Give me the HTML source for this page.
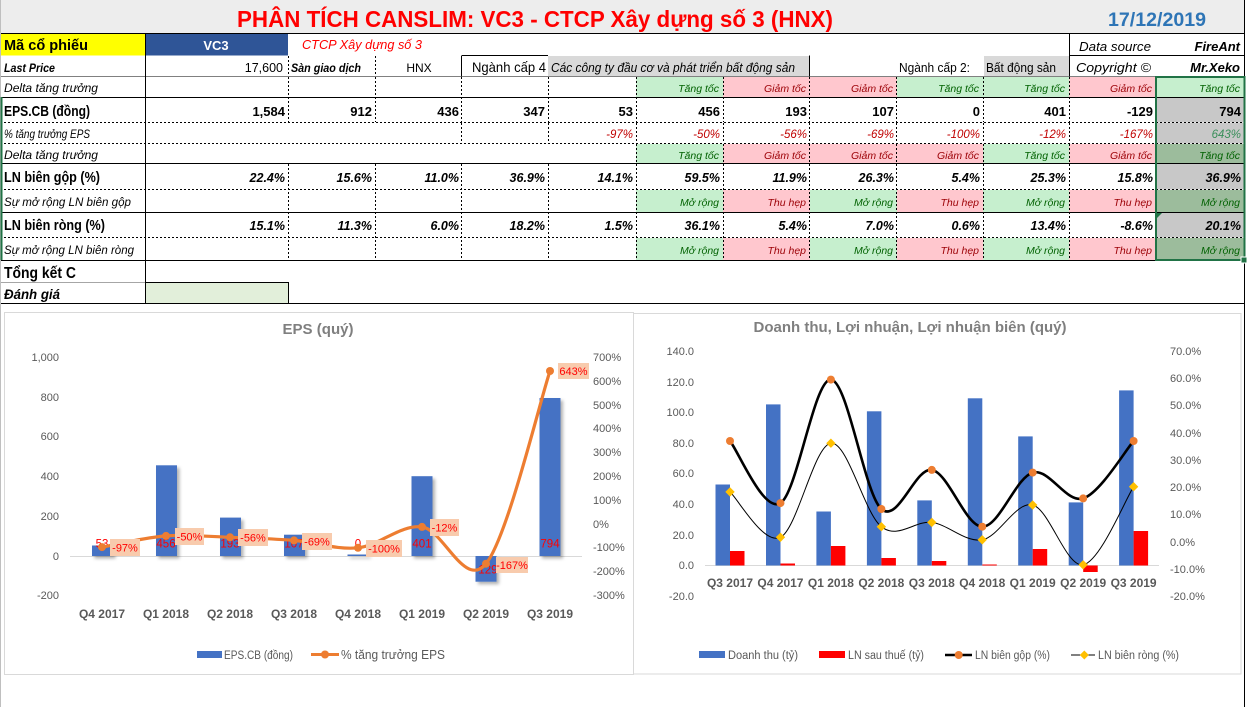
<!DOCTYPE html>
<html><head><meta charset="utf-8"><style>
html,body{margin:0;padding:0;background:#fff;}
svg{display:block;font-family:"Liberation Sans",Arial,sans-serif;}
</style></head><body>
<svg width="1255" height="707" viewBox="0 0 1255 707" xmlns="http://www.w3.org/2000/svg">
<defs>
<filter id="sh" x="-30%" y="-30%" width="160%" height="160%"><feDropShadow dx="2.5" dy="2.5" stdDeviation="1.5" flood-color="#000" flood-opacity="0.3"/></filter>
</defs>
<rect x="0" y="0" width="1255" height="707" fill="#fff"/>
<!-- title row -->
<rect x="0" y="0" width="1244" height="33.5" fill="#ededed"/>
<text x="237" y="27" font-size="23" font-weight="bold" fill="#ff0000" textLength="596" lengthAdjust="spacingAndGlyphs">PHÂN TÍCH CANSLIM: VC3 - CTCP Xây dựng số 3 (HNX)</text>
<text x="1108" y="26" font-size="19" font-weight="bold" fill="#2e75b6" textLength="98" lengthAdjust="spacingAndGlyphs">17/12/2019</text>

<!-- row 1 -->
<rect x="0" y="34" width="145" height="21.5" fill="#ffff00"/>
<rect x="146" y="34" width="142" height="21.5" fill="#2f5597"/>
<text x="4" y="50" font-size="14.5" font-weight="bold" textLength="84" lengthAdjust="spacingAndGlyphs">Mã cổ phiếu</text>
<text x="216" y="50" font-size="13" font-weight="bold" fill="#fff" text-anchor="middle">VC3</text>
<text x="302" y="49" font-size="12.5" font-style="italic" fill="#ff0000" textLength="120" lengthAdjust="spacingAndGlyphs">CTCP Xây dựng số 3</text>
<text x="1079" y="51" font-size="13" font-style="italic" textLength="72" lengthAdjust="spacingAndGlyphs">Data source</text>
<text x="1240" y="51" font-size="13" font-style="italic" font-weight="bold" text-anchor="end">FireAnt</text>

<!-- row 2 -->
<rect x="548" y="56" width="261" height="20.5" fill="#d9d9d9"/>
<rect x="984" y="56" width="85" height="20.5" fill="#d9d9d9"/>
<text x="4" y="72" font-size="12" font-style="italic" font-weight="bold" textLength="51" lengthAdjust="spacingAndGlyphs">Last Price</text>
<text x="283" y="72" font-size="12.5" text-anchor="end">17,600</text>
<text x="291" y="72" font-size="12" font-style="italic" font-weight="bold" textLength="70" lengthAdjust="spacingAndGlyphs">Sàn giao dịch</text>
<text x="419" y="72" font-size="12" text-anchor="middle">HNX</text>
<text x="472" y="72" font-size="14" textLength="74" lengthAdjust="spacingAndGlyphs">Ngành cấp 4</text>
<text x="551" y="72" font-size="12.5" font-style="italic" textLength="244" lengthAdjust="spacingAndGlyphs">Các công ty đầu cơ và phát triển bất động sản</text>
<text x="899" y="72" font-size="12.5" textLength="71" lengthAdjust="spacingAndGlyphs">Ngành cấp 2:</text>
<text x="986" y="72" font-size="12.5" textLength="70" lengthAdjust="spacingAndGlyphs">Bất động sản</text>
<text x="1076" y="72" font-size="13" font-style="italic" textLength="75" lengthAdjust="spacingAndGlyphs">Copyright ©</text>
<text x="1240" y="72" font-size="13" font-style="italic" font-weight="bold" text-anchor="end">Mr.Xeko</text>

<!-- colored cells -->
<g>
<!-- row 77-97 -->
<rect x="636" y="77" width="87" height="20.5" fill="#c6efce"/>
<rect x="723" y="77" width="87" height="20.5" fill="#ffc7ce"/>
<rect x="810" y="77" width="87" height="20.5" fill="#ffc7ce"/>
<rect x="897" y="77" width="86" height="20.5" fill="#c6efce"/>
<rect x="983" y="77" width="86" height="20.5" fill="#c6efce"/>
<rect x="1069" y="77" width="87" height="20.5" fill="#ffc7ce"/>
<rect x="1156" y="77" width="88" height="20.5" fill="#c6efce"/>
<!-- gray selected -->
<rect x="1156" y="98" width="88" height="24.5" fill="#c8c8c8"/>
<rect x="1156" y="123" width="88" height="20.5" fill="#c8c8c8"/>
<rect x="1156" y="164" width="88" height="25.5" fill="#c8c8c8"/>
<rect x="1156" y="213" width="88" height="24.5" fill="#c8c8c8"/>
<!-- row 143-163 -->
<rect x="636" y="144" width="87" height="19.5" fill="#c6efce"/>
<rect x="723" y="144" width="87" height="19.5" fill="#ffc7ce"/>
<rect x="810" y="144" width="87" height="19.5" fill="#ffc7ce"/>
<rect x="897" y="144" width="86" height="19.5" fill="#ffc7ce"/>
<rect x="983" y="144" width="86" height="19.5" fill="#c6efce"/>
<rect x="1069" y="144" width="87" height="19.5" fill="#ffc7ce"/>
<rect x="1156" y="144" width="88" height="19.5" fill="#9cbc9c"/>
<!-- row 189-212 -->
<rect x="636" y="190" width="87" height="22.5" fill="#c6efce"/>
<rect x="723" y="190" width="87" height="22.5" fill="#ffc7ce"/>
<rect x="810" y="190" width="87" height="22.5" fill="#c6efce"/>
<rect x="897" y="190" width="86" height="22.5" fill="#ffc7ce"/>
<rect x="983" y="190" width="86" height="22.5" fill="#c6efce"/>
<rect x="1069" y="190" width="87" height="22.5" fill="#ffc7ce"/>
<rect x="1156" y="190" width="88" height="22.5" fill="#9cbc9c"/>
<!-- row 237-260 -->
<rect x="636" y="238" width="87" height="22.5" fill="#c6efce"/>
<rect x="723" y="238" width="87" height="22.5" fill="#ffc7ce"/>
<rect x="810" y="238" width="87" height="22.5" fill="#c6efce"/>
<rect x="897" y="238" width="86" height="22.5" fill="#ffc7ce"/>
<rect x="983" y="238" width="86" height="22.5" fill="#c6efce"/>
<rect x="1069" y="238" width="87" height="22.5" fill="#ffc7ce"/>
<rect x="1156" y="238" width="88" height="22.5" fill="#9cbc9c"/>
<!-- Danh gia cell -->
<rect x="145.5" y="282.5" width="143" height="21" fill="#e2efda" stroke="#000" stroke-width="1"/>
</g>

<!-- horizontal lines -->
<g stroke="#000" stroke-width="1">
<line x1="0" y1="33.5" x2="1245" y2="33.5"/>
<line x1="462" y1="55.5" x2="548" y2="55.5"/>
<line x1="1069" y1="55.5" x2="1245" y2="55.5"/>
<line x1="0" y1="76.5" x2="1245" y2="76.5" stroke="#808080"/>
<line x1="0" y1="97.5" x2="1245" y2="97.5"/>
<line x1="0" y1="163.5" x2="1245" y2="163.5"/>
<line x1="0" y1="212.5" x2="1245" y2="212.5"/>
<line x1="0" y1="260.5" x2="1245" y2="260.5"/>
<line x1="0" y1="282.5" x2="145" y2="282.5" stroke="#a6a6a6"/>
<line x1="0" y1="303.5" x2="1245" y2="303.5"/>
</g>
<g stroke="#000" stroke-width="1" stroke-dasharray="2,2">
<line x1="0" y1="122.5" x2="1245" y2="122.5"/>
<line x1="0" y1="143.5" x2="1245" y2="143.5"/>
<line x1="0" y1="189.5" x2="1245" y2="189.5"/>
<line x1="0" y1="237.5" x2="1245" y2="237.5"/>
<!-- row2 -->
<line x1="288.5" y1="56" x2="288.5" y2="76"/>
<line x1="375.5" y1="56" x2="375.5" y2="76"/>
<!-- seg A 77-122 -->
<path d="M288.5 77V122M375.5 77V122M461.5 77V122M548.5 77V122M636.5 77V122M723.5 77V122M809.5 77V122M896.5 77V122M983.5 77V122M1069.5 77V122"/>
<!-- seg B 122-143 -->
<path d="M461.5 123V143M548.5 123V143M636.5 123V143M723.5 123V143M809.5 123V143M896.5 123V143M983.5 123V143M1069.5 123V143"/>
<!-- seg C 143-163 -->
<path d="M636.5 144V163M723.5 144V163M809.5 144V163M896.5 144V163M983.5 144V163M1069.5 144V163"/>
<!-- seg D 163-260 -->
<path d="M288.5 164V260M375.5 164V260M461.5 164V260M548.5 164V260M636.5 164V260M723.5 164V260M809.5 164V260M896.5 164V260M983.5 164V260M1069.5 164V260"/>
</g>
<g stroke="#000" stroke-width="1">
<line x1="145.5" y1="33.5" x2="145.5" y2="303.5"/>
<line x1="461.5" y1="55.5" x2="461.5" y2="76.5"/>
<line x1="809.5" y1="55.5" x2="809.5" y2="76.5"/>
<line x1="1069.5" y1="33.5" x2="1069.5" y2="76.5"/>
<line x1="1244.5" y1="0" x2="1244.5" y2="77"/>
<line x1="1244.5" y1="260" x2="1244.5" y2="707"/>
</g>
<line x1="0.5" y1="0" x2="0.5" y2="707" stroke="#bfbfbf"/>
<line x1="1.5" y1="97" x2="1.5" y2="260" stroke="#217346" stroke-width="2"/>

<!-- row labels -->
<g font-size="12" font-style="italic" fill="#000">
<text x="4" y="92" textLength="94" lengthAdjust="spacingAndGlyphs">Delta tăng trưởng</text>
<text x="4" y="138" font-size="11.5" textLength="86" lengthAdjust="spacingAndGlyphs">% tăng trưởng EPS</text>
<text x="4" y="159" textLength="94" lengthAdjust="spacingAndGlyphs">Delta tăng trưởng</text>
<text x="4" y="206" font-size="11.5" textLength="127" lengthAdjust="spacingAndGlyphs">Sự mở rộng LN biên gộp</text>
<text x="4" y="254" font-size="11.5" textLength="130" lengthAdjust="spacingAndGlyphs">Sự mở rộng LN biên ròng</text>
</g>
<g font-size="15" font-weight="bold">
<text x="4" y="116" textLength="86" lengthAdjust="spacingAndGlyphs">EPS.CB (đồng)</text>
<text x="4" y="182" textLength="96" lengthAdjust="spacingAndGlyphs">LN biên gộp (%)</text>
<text x="4" y="230" textLength="101" lengthAdjust="spacingAndGlyphs">LN biên ròng (%)</text>
<text x="4" y="278" font-size="16" textLength="72" lengthAdjust="spacingAndGlyphs">Tổng kết C</text>
<text x="4" y="299" font-size="13.5" font-style="italic" textLength="56" lengthAdjust="spacingAndGlyphs">Đánh giá</text>
</g>

<!-- EPS values -->
<g font-size="13" font-weight="bold" text-anchor="end">
<text x="285" y="116">1,584</text><text x="372" y="116">912</text><text x="459" y="116">436</text><text x="545" y="116">347</text><text x="633" y="116">53</text><text x="720" y="116">456</text><text x="807" y="116">193</text><text x="894" y="116">107</text><text x="980" y="116">0</text><text x="1066" y="116">401</text><text x="1153" y="116">-129</text><text x="1241" y="116">794</text>
</g>
<!-- % growth -->
<g font-size="11.5" font-style="italic" fill="#c00000" text-anchor="end">
<text x="633" y="138">-97%</text><text x="720" y="138">-50%</text><text x="807" y="138">-56%</text><text x="894" y="138">-69%</text><text x="980" y="138">-100%</text><text x="1066" y="138">-12%</text><text x="1153" y="138">-167%</text><text x="1241" y="138" fill="#3a8f5a">643%</text>
</g>
<!-- margins -->
<g font-size="12.5" font-weight="bold" font-style="italic" text-anchor="end">
<text x="285" y="182">22.4%</text><text x="372" y="182">15.6%</text><text x="459" y="182">11.0%</text><text x="545" y="182">36.9%</text><text x="633" y="182">14.1%</text><text x="720" y="182">59.5%</text><text x="807" y="182">11.9%</text><text x="894" y="182">26.3%</text><text x="980" y="182">5.4%</text><text x="1066" y="182">25.3%</text><text x="1153" y="182">15.8%</text><text x="1241" y="182">36.9%</text>
<text x="285" y="230">15.1%</text><text x="372" y="230">11.3%</text><text x="459" y="230">6.0%</text><text x="545" y="230">18.2%</text><text x="633" y="230">1.5%</text><text x="720" y="230">36.1%</text><text x="807" y="230">5.4%</text><text x="894" y="230">7.0%</text><text x="980" y="230">0.6%</text><text x="1066" y="230">13.4%</text><text x="1153" y="230">-8.6%</text><text x="1241" y="230">20.1%</text>
</g>
<!-- status texts -->
<g font-size="10.5" font-style="italic" text-anchor="end">
<text x="719" y="92" fill="#006100">Tăng tốc</text><text x="806" y="92" fill="#9c0006">Giảm tốc</text><text x="893" y="92" fill="#9c0006">Giảm tốc</text><text x="979" y="92" fill="#006100">Tăng tốc</text><text x="1065" y="92" fill="#006100">Tăng tốc</text><text x="1152" y="92" fill="#9c0006">Giảm tốc</text><text x="1240" y="92" fill="#006100">Tăng tốc</text>
<text x="719" y="159" fill="#006100">Tăng tốc</text><text x="806" y="159" fill="#9c0006">Giảm tốc</text><text x="893" y="159" fill="#9c0006">Giảm tốc</text><text x="979" y="159" fill="#9c0006">Giảm tốc</text><text x="1065" y="159" fill="#006100">Tăng tốc</text><text x="1152" y="159" fill="#9c0006">Giảm tốc</text><text x="1240" y="159" fill="#006100">Tăng tốc</text>
<text x="719" y="206" fill="#006100">Mở rộng</text><text x="806" y="206" fill="#9c0006">Thu hẹp</text><text x="893" y="206" fill="#006100">Mở rộng</text><text x="979" y="206" fill="#9c0006">Thu hẹp</text><text x="1065" y="206" fill="#006100">Mở rộng</text><text x="1152" y="206" fill="#9c0006">Thu hẹp</text><text x="1240" y="206" fill="#006100">Mở rộng</text>
<text x="719" y="254" fill="#006100">Mở rộng</text><text x="806" y="254" fill="#9c0006">Thu hẹp</text><text x="893" y="254" fill="#006100">Mở rộng</text><text x="979" y="254" fill="#9c0006">Thu hẹp</text><text x="1065" y="254" fill="#006100">Mở rộng</text><text x="1152" y="254" fill="#9c0006">Thu hẹp</text><text x="1240" y="254" fill="#006100">Mở rộng</text>
</g>
<!-- selection -->
<polygon points="1157,213 1162,213 1157,218" fill="#217346"/>
<rect x="1156" y="77" width="88.5" height="183" fill="none" stroke="#217346" stroke-width="2"/>
<rect x="1241" y="257" width="6" height="6" fill="#217346" stroke="#fff" stroke-width="1"/>

<!-- ============ LEFT CHART ============ -->
<rect x="4.5" y="312.5" width="629" height="362" fill="#fff" stroke="#d9d9d9"/>
<text x="318" y="334" font-size="14.5" font-weight="bold" fill="#7f7f7f" text-anchor="middle" textLength="71" lengthAdjust="spacingAndGlyphs">EPS  (quý)</text>
<g font-size="11" fill="#595959" text-anchor="end">
<text x="59" y="361">1,000</text><text x="59" y="401">800</text><text x="59" y="440">600</text><text x="59" y="480">400</text><text x="59" y="520">200</text><text x="59" y="560">0</text><text x="59" y="599">-200</text>
</g>
<g font-size="11" fill="#595959">
<text x="593" y="361">700%</text><text x="593" y="385">600%</text><text x="593" y="409">500%</text><text x="593" y="432">400%</text><text x="593" y="456">300%</text><text x="593" y="480">200%</text><text x="593" y="504">100%</text><text x="593" y="528">0%</text><text x="593" y="551">-100%</text><text x="593" y="575">-200%</text><text x="593" y="599">-300%</text>
</g>
<line x1="70" y1="556.5" x2="582" y2="556.5" stroke="#d9d9d9"/>
<g fill="#4472c4" filter="url(#sh)">
<rect x="92" y="545.5" width="21" height="10.5"/>
<rect x="156" y="465.3" width="21" height="90.7"/>
<rect x="220" y="517.6" width="21" height="38.4"/>
<rect x="284" y="534.7" width="21" height="21.3"/>
<rect x="347.5" y="554.5" width="21" height="1.5"/>
<rect x="411.5" y="476.2" width="21" height="79.8"/>
<rect x="475.5" y="556" width="21" height="25.7"/>
<rect x="539.5" y="398" width="21" height="158"/>
</g>
<g font-size="11.5" fill="#ff0000" text-anchor="middle">
<text x="102" y="547.5">53</text><text x="166" y="547.5">456</text><text x="230" y="547.5">193</text><text x="294" y="547.5">107</text><text x="358" y="547.5">0</text><text x="422" y="547.5">401</text><text x="486" y="573.5">-129</text><text x="550" y="547.5">794</text>
</g>
<path d="M102,547.1 C112.67,545.23 144.67,537.53 166,535.9 C187.33,534.27 208.67,536.55 230,537.3 C251.33,538.05 272.67,538.65 294,540.4 C315.33,542.15 336.67,550.05 358,547.8 C379.33,545.55 400.67,524.25 422,526.9 C443.33,529.55 464.67,589.68 486,563.7 C507.33,537.72 539.33,403.12 550,371" fill="none" stroke="#ed7d31" stroke-width="3.2" stroke-linecap="round"/>
<g fill="#ed7d31">
<circle cx="102" cy="547.1" r="4"/><circle cx="166" cy="535.9" r="4"/><circle cx="230" cy="537.3" r="4"/><circle cx="294" cy="540.4" r="4"/><circle cx="358" cy="547.8" r="4"/><circle cx="422" cy="526.9" r="4"/><circle cx="486" cy="563.7" r="4"/><circle cx="550" cy="371" r="4"/>
</g>
<g fill="#f8cbad">
<rect x="110" y="539" width="30" height="17"/><rect x="175" y="528" width="29" height="17"/><rect x="238" y="529" width="30" height="17"/><rect x="302" y="533" width="30" height="17"/><rect x="366" y="540" width="36" height="17"/><rect x="430" y="519" width="29" height="17"/><rect x="496" y="557" width="32" height="16"/><rect x="558" y="363" width="31" height="16"/>
</g>
<g font-size="11" fill="#ff0000" text-anchor="middle">
<text x="125" y="551.5">-97%</text><text x="189.5" y="540.5">-50%</text><text x="253" y="541.5">-56%</text><text x="317" y="545.5">-69%</text><text x="384" y="552.5">-100%</text><text x="444.5" y="531.5">-12%</text><text x="512" y="569">-167%</text><text x="573.5" y="375">643%</text>
</g>
<g font-size="12" font-weight="bold" fill="#595959" text-anchor="middle">
<text x="102" y="618">Q4 2017</text><text x="166" y="618">Q1 2018</text><text x="230" y="618">Q2 2018</text><text x="294" y="618">Q3 2018</text><text x="358" y="618">Q4 2018</text><text x="422" y="618">Q1 2019</text><text x="486" y="618">Q2 2019</text><text x="550" y="618">Q3 2019</text>
</g>
<rect x="197" y="651" width="25" height="7" fill="#4472c4"/>
<text x="224" y="659" font-size="11.5" fill="#595959" textLength="69" lengthAdjust="spacingAndGlyphs">EPS.CB (đồng)</text>
<line x1="311" y1="654.5" x2="339" y2="654.5" stroke="#ed7d31" stroke-width="3"/>
<circle cx="325" cy="654.5" r="4" fill="#ed7d31"/>
<text x="341" y="659" font-size="12.5" fill="#595959" textLength="104" lengthAdjust="spacingAndGlyphs">% tăng trưởng EPS</text>

<!-- ============ RIGHT CHART ============ -->
<rect x="633.5" y="313.5" width="607.5" height="360.5" fill="#fff" stroke="#d9d9d9"/>
<text x="910" y="332" font-size="14.5" font-weight="bold" fill="#7f7f7f" text-anchor="middle" textLength="313" lengthAdjust="spacingAndGlyphs">Doanh thu, Lợi nhuận, Lợi nhuận biên (quý)</text>
<g font-size="11" fill="#595959" text-anchor="end">
<text x="694" y="355">140.0</text><text x="694" y="386">120.0</text><text x="694" y="416">100.0</text><text x="694" y="447">80.0</text><text x="694" y="477">60.0</text><text x="694" y="508">40.0</text><text x="694" y="539">20.0</text><text x="694" y="569">0.0</text><text x="694" y="600">-20.0</text>
</g>
<g font-size="11" fill="#595959">
<text x="1170" y="355">70.0%</text><text x="1170" y="382">60.0%</text><text x="1170" y="409">50.0%</text><text x="1170" y="437">40.0%</text><text x="1170" y="464">30.0%</text><text x="1170" y="491">20.0%</text><text x="1170" y="518">10.0%</text><text x="1170" y="546">0.0%</text><text x="1170" y="573">-10.0%</text><text x="1170" y="600">-20.0%</text>
</g>
<line x1="705" y1="565.5" x2="1159" y2="565.5" stroke="#d9d9d9"/>
<g fill="#4472c4">
<rect x="715.5" y="484.5" width="14.5" height="81"/>
<rect x="766" y="404.4" width="14.5" height="161.1"/>
<rect x="816.4" y="511.5" width="14.5" height="54"/>
<rect x="866.9" y="411.3" width="14.5" height="154.2"/>
<rect x="917.3" y="500.4" width="14.5" height="65.1"/>
<rect x="967.8" y="398.3" width="14.5" height="167.2"/>
<rect x="1018.2" y="436.4" width="14.5" height="129.1"/>
<rect x="1068.7" y="502.4" width="14.5" height="63.1"/>
<rect x="1119.1" y="390.4" width="14.5" height="175.1"/>
</g>
<g fill="#ff0000">
<rect x="730" y="551" width="14.5" height="14.5"/>
<rect x="780.5" y="563.5" width="14.5" height="2"/>
<rect x="830.9" y="546" width="14.5" height="19.5"/>
<rect x="881.4" y="558" width="14.5" height="7.5"/>
<rect x="931.8" y="561" width="14.5" height="4.5"/>
<rect x="982.3" y="564.5" width="14.5" height="1"/>
<rect x="1032.7" y="549" width="14.5" height="16.5"/>
<rect x="1083.2" y="565.5" width="14.5" height="6.5"/>
<rect x="1133.6" y="531" width="14.5" height="34.5"/>
</g>
<path d="M730,441 C738.4,451.35 763.6,513.3 780.45,503.1 C797.3,492.9 814.1,378.6 830.9,379.6 C847.7,380.6 864.5,494 881.35,509 C898.2,524.1 915,467 931.8,469.9 C948.6,472.9 965.4,526.3 982.25,526.7 C999.1,527.2 1015.9,477.3 1032.7,472.6 C1049.5,467.9 1066.3,503.7 1083.15,498.4 C1100,493.1 1125.2,450.6 1133.6,441" fill="none" stroke="#000" stroke-width="2.6"/>
<path d="M730,491.9 C738.4,499.5 763.6,545.4 780.45,537.3 C797.3,529.2 814.1,445 830.9,443.2 C847.7,441.4 864.5,513.5 881.35,526.7 C898.2,539.9 915,520.2 931.8,522.4 C948.6,524.6 965.4,542.7 982.25,539.8 C999.1,536.9 1015.9,500.8 1032.7,505 C1049.5,509.2 1066.3,567.9 1083.15,564.8 C1100,561.8 1125.2,499.7 1133.6,486.7" fill="none" stroke="#000" stroke-width="1"/>
<g fill="#ed7d31">
<circle cx="730" cy="441" r="4"/><circle cx="780.45" cy="503.1" r="4"/><circle cx="830.9" cy="379.6" r="4"/><circle cx="881.35" cy="509" r="4"/><circle cx="931.8" cy="469.9" r="4"/><circle cx="982.25" cy="526.7" r="4"/><circle cx="1032.7" cy="472.6" r="4"/><circle cx="1083.15" cy="498.4" r="4"/><circle cx="1133.6" cy="441" r="4"/>
</g>
<g fill="#ffc000">
<polygon points="730,487.2 734.7,491.9 730,496.6 725.3,491.9"/>
<polygon points="780.45,532.6 785.15,537.3 780.45,542 775.75,537.3"/>
<polygon points="830.9,438.5 835.6,443.2 830.9,447.9 826.2,443.2"/>
<polygon points="881.35,522 886.05,526.7 881.35,531.4 876.65,526.7"/>
<polygon points="931.8,517.7 936.5,522.4 931.8,527.1 927.1,522.4"/>
<polygon points="982.25,535.1 986.95,539.8 982.25,544.5 977.55,539.8"/>
<polygon points="1032.7,500.3 1037.4,505 1032.7,509.7 1028,505"/>
<polygon points="1083.15,560.1 1087.85,564.8 1083.15,569.5 1078.45,564.8"/>
<polygon points="1133.6,482 1138.3,486.7 1133.6,491.4 1128.9,486.7"/>
</g>
<g font-size="12" font-weight="bold" fill="#595959" text-anchor="middle">
<text x="730" y="587">Q3 2017</text><text x="780.45" y="587">Q4 2017</text><text x="830.9" y="587">Q1 2018</text><text x="881.35" y="587">Q2 2018</text><text x="931.8" y="587">Q3 2018</text><text x="982.25" y="587">Q4 2018</text><text x="1032.7" y="587">Q1 2019</text><text x="1083.15" y="587">Q2 2019</text><text x="1133.6" y="587">Q3 2019</text>
</g>
<rect x="699" y="651" width="26" height="7" fill="#4472c4"/>
<text x="728" y="659" font-size="11.5" fill="#595959" textLength="70" lengthAdjust="spacingAndGlyphs">Doanh thu (tỷ)</text>
<rect x="819" y="651" width="26" height="7" fill="#ff0000"/>
<text x="848" y="659" font-size="11.5" fill="#595959" textLength="76" lengthAdjust="spacingAndGlyphs">LN sau thuế (tỷ)</text>
<line x1="945" y1="655" x2="972" y2="655" stroke="#000" stroke-width="2.5"/>
<circle cx="958.7" cy="655" r="4" fill="#ed7d31"/>
<text x="975" y="659" font-size="11.5" fill="#595959" textLength="75" lengthAdjust="spacingAndGlyphs">LN biên gộp (%)</text>
<line x1="1071" y1="655" x2="1095" y2="655" stroke="#000" stroke-width="1"/>
<polygon points="1084.3,650.5 1088.8,655 1084.3,659.5 1079.8,655" fill="#ffc000"/>
<text x="1098" y="659" font-size="11.5" fill="#595959" textLength="81" lengthAdjust="spacingAndGlyphs">LN biên ròng (%)</text>
</svg>
</body></html>
